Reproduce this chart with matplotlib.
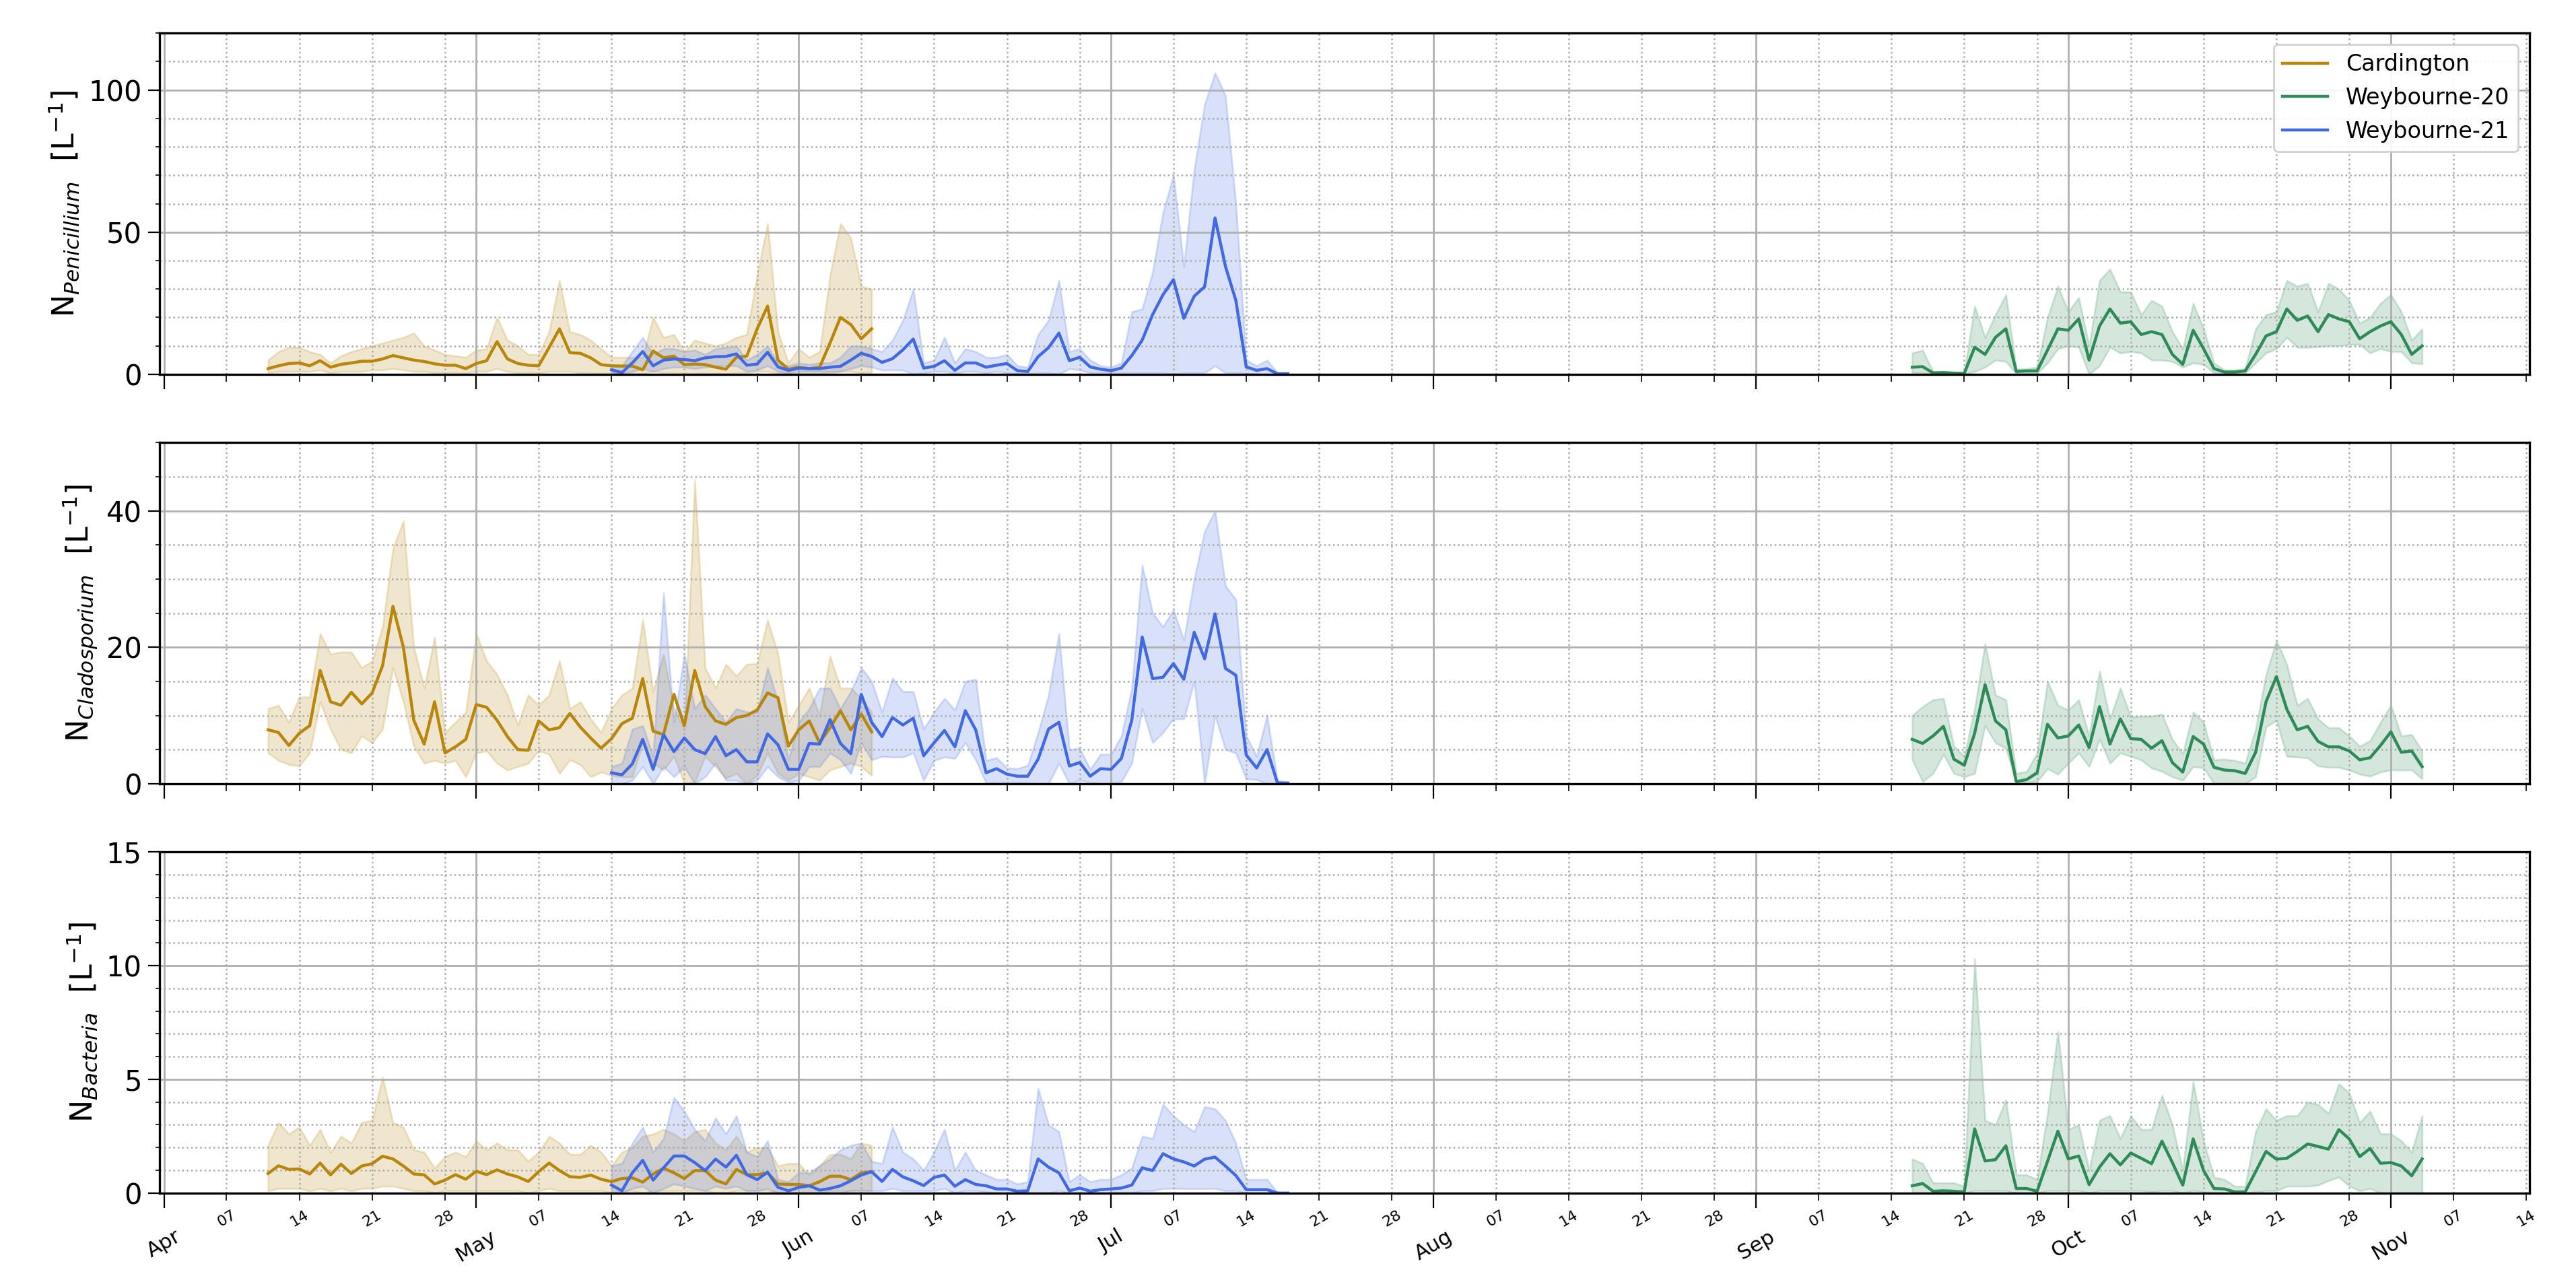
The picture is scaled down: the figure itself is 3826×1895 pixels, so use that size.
import numpy as np
import pandas as pd
import matplotlib
matplotlib.use('Agg')
import matplotlib.pyplot as plt
import matplotlib.dates as mdates
from matplotlib.ticker import MultipleLocator

# --- Data (daily means and spread) ---
card_start = '2021-04-11'
w21_start = '2021-05-14'
w20_start = '2021-09-16'

# Penicillium
card_pen = [2, 3, 3.8, 4, 3, 4.8, 2.5, 3.5, 4, 4.6, 4.6, 5.4, 6.6, 5.8, 5, 4.5, 3.7, 3.2, 3.2, 2,
            3.8, 4.8, 11.5, 5.4, 3.8, 3.2, 3, 9.4, 16, 7.6, 7.4, 5.8, 3.4, 3, 2.9, 2.9, 1.6, 8.2, 5.8, 6.4,
            3.4, 3.6, 3.4, 2.5, 1.8, 6, 6.4, 16, 24, 5, 1.8, 2.5, 2, 2.5, 11, 20, 17.5, 12.5, 16]
card_pen_hi = [5, 8, 9.5, 9.5, 8, 7, 4, 6.5, 8, 9, 10, 11, 12, 13, 14.5, 10, 8.5, 7, 6.5, 6,
               8.5, 9, 20, 12, 10, 7, 7, 15, 33, 15, 14, 12, 9, 6, 6, 6, 6, 20, 13, 14,
               8, 12, 11, 10, 11, 13, 14, 35, 53, 15, 4, 9, 6, 8, 35, 53, 48, 31, 30]
card_pen_lo = [0.5, 1, 1, 1, 1, 1.5, 0.5, 1, 1, 1, 1.5, 1.5, 2, 1.5, 1, 1, 0.5, 0.5, 0.5, 0.3,
               1, 1, 2, 1, 0.5, 0.5, 0.5, 1, 1, 1, 0.5, 0.5, 0.3, 0.3, 0.3, 0.3, 0.2, 1, 0.5, 0.5,
               0.3, 0.3, 0.3, 0.2, 0.1, 0.5, 0.5, 1, 1, 0.3, 0.1, 0.2, 0.2, 0.2, 0.5, 1, 1, 0.5, 0.5]
w21_pen = [1.6, 0.6, 4, 8, 3, 5, 5.4, 5.2, 4.8, 5.8, 6.2, 6.3, 7.2, 3.2, 3.6, 7.8, 2.6, 1.4,
           2.2, 2, 2, 2.5, 2.8, 5, 7.4, 6.3, 4.2, 5.5, 8.6, 12.4, 2.2, 2.8, 4.8, 1.4, 4, 4, 2.5, 3.2,
           3.8, 1.3, 1, 6.2, 9.4, 14.5, 4.8, 6, 2.6, 1.8,
           1.3, 2.2, 6.6, 12, 21, 28, 33.3, 19.7, 27.5, 30.8, 55, 38, 26, 2.6, 1.4, 2, 0.2, 0.2]
w21_pen_hi = [2.5, 3, 8, 13, 7, 9, 9, 8, 8.5, 7, 9, 9.5, 10, 5, 7, 10, 4, 3,
              4, 3.5, 4, 4, 6, 10, 10, 9, 8, 12, 19, 30, 4, 5, 13, 4, 9, 8, 6, 6,
              7, 3, 2.5, 14, 19, 33, 8, 9, 5, 3,
              2.5, 4, 22, 23, 36, 57, 70, 38, 72, 95, 106, 98, 60, 5, 3, 5, 0.5, 0.3]
w21_pen_lo = [0.5, 0, 1, 2, 1, 2, 2.5, 2.5, 2, 2.5, 3, 3, 3, 1, 1.5, 3, 1, 0.5,
              1, 1, 1, 1, 1, 2, 3, 2.5, 1.5, 1.5, 1.5, 0, 0.5, 1, 1, 0.3, 1, 1, 0.5, 1,
              0.5, 0.3, 0.2, 0.5, 0.5, 0, 2, 1.5, 0.5, 0.5,
              0.5, 0.5, 0.5, 0.5, 0.5, 0.5, 0, 0.5, 0.5, 0.5, 3, 0.5, 0.5, 0.3, 0.2, 0, 0, 0]
w20_pen = [2.5, 2.7, 0.5, 0.6, 0.4, 0.3, 9.5, 7, 13, 16, 1, 1.2, 1.2, 8.5, 16,
           15.5, 19.5, 5, 17, 23, 18, 18.5, 14, 15, 14, 7, 3.5, 15.5, 9, 2, 0.8, 0.8, 1.2, 7, 13.5,
           15, 23, 19, 20.5, 15, 21, 19.5, 18.5, 12.5, 15, 17, 18.5, 14, 7, 10]
w20_pen_hi = [7.5, 8.5, 1, 1, 0.7, 0.6, 24, 13, 21, 28, 2, 2, 2.5, 20, 31,
              22, 27, 10, 33, 37, 29, 29, 21, 26, 24, 15, 9, 25, 16, 4, 1.5, 1.5, 2, 16, 21,
              22, 33, 31, 32, 22, 32, 30, 26, 18, 20, 25, 28, 22, 12, 16]
w20_pen_lo = [0.5, 0.5, 0, 0, 0, 0, 1, 2.5, 5, 4.5, 0.3, 0.3, 0.4, 4, 9,
              10, 9.5, 0, 3, 9.5, 7.5, 8, 7.5, 5, 5, 4.5, 2.5, 4, 3.5, 0.5, 0.2, 0.2, 0.4, 4, 7.5,
              9, 13, 9.5, 9.5, 9.7, 10, 10, 10.5, 10.5, 7.5, 9, 8, 8, 4, 3.7]

# Cladosporium
card_cla = [7.9, 7.5, 5.6, 7.4, 8.5, 16.6, 12, 11.5, 13.4, 11.7, 13.3, 17.3, 26, 20, 9.3, 5.8, 12, 4.5, 5.4, 6.5,
            11.6, 11.2, 9.3, 6.9, 5, 4.9, 9.2, 7.9, 8.2, 10.3, 8.3, 6.7, 5.2, 6.6, 8.8, 9.6, 15.4, 7.7, 7.2, 13.1,
            8.5, 16.6, 11.3, 9.2, 8.7, 9.7, 10, 10.8, 13.3, 12.6, 5.5, 7.9, 9.2, 6, 8.2, 10.7, 7.9, 10.2, 7.6]
card_cla_hi = [11, 11.5, 9, 12.7, 12.7, 22, 19, 19.3, 19.3, 17, 18, 23, 34.5, 38.5, 20, 14, 21.5, 7.5, 9, 10.5,
               22, 18, 16, 13, 8.6, 13, 11.5, 13, 18, 11, 12, 9.5, 7.5, 11, 13, 14, 24, 13.5, 19, 11,
               8, 44.5, 17, 14, 17.5, 15.8, 17.5, 17.6, 24, 19, 9, 11.5, 14, 10, 18.7, 14, 14, 12.5, 10.5]
card_cla_lo = [4.5, 3.4, 2.8, 2.6, 4.5, 12, 8, 5, 4.5, 7, 6, 8, 17, 12, 5.5, 3, 3.4, 3, 3.4, 1,
               4.5, 4.8, 3, 2, 2.5, 3, 4.8, 4.3, 1.5, 3.5, 2.8, 1, 1.7, 1.2, 1, 1, 6, 3, 2, 4,
               0, 0.2, 4, 2.5, 0.8, 1.5, 0, 1.2, 4.5, 1.5, 0.5, 1.5, 1, 0.5, 2, 2.5, 3, 2.5, 1.2]
w21_cla = [1.6, 1.3, 2.9, 6.5, 2.1, 7.2, 4.7, 6.7, 5, 4.4, 6.9, 4.1, 5, 3.2, 3.2, 7.3, 5.7, 2.1,
           2.1, 5.9, 5.8, 9.4, 5.9, 4.4, 13.1, 9, 6.9, 9.7, 8.6, 9.6, 4.1, 6, 7.8, 5.4, 10.7, 7.9, 1.6, 2.2,
           1.4, 1.1, 1.1, 3.6, 8, 9, 2.6, 3.1, 1.1, 2.2,
           2.1, 3.7, 9.3, 21.5, 15.4, 15.6, 17.6, 15.3, 22.2, 18.3, 24.9, 16.9, 15.9, 4.2, 2.3, 5, 0.1, 0.1]
w21_cla_hi = [2.5, 3, 8, 8.5, 4, 28, 9, 19, 11, 13, 11, 9, 11, 10.5, 10.5, 17, 12, 3.5,
              9, 11, 14, 14, 11, 13.5, 17, 15, 10.5, 15.5, 13.5, 13.5, 8, 10.5, 12.5, 10.8, 15, 15.3, 3.4, 3.8,
              2.3, 2.2, 2.7, 7.5, 13, 22, 5, 5.2, 2.1, 4.3,
              4.3, 7, 14, 32, 25, 23, 25.5, 21, 30, 37, 40, 29, 27, 7, 4, 10, 0.5, 0.2]
w21_cla_lo = [0, 0, 0.5, 2.5, 0, 2.5, 1, 2.5, 0, 1, 3, 0.5, 0.5, 0, 0.5, 2.5, 1, 0.2,
              0.5, 2.5, 2.5, 4.5, 3.5, 1.5, 6, 3.5, 4, 3.9, 3.9, 4.5, 0.5, 3.4, 3.9, 3.7, 6, 3.5, 0.1, 0.1,
              0.2, 0.2, 0.1, 0, 0, 3, 0, 0.5, 0.2, 0,
              0, 0.3, 3, 11, 6, 7.5, 9.5, 9.5, 15, 0, 10, 5, 4.5, 0.7, 0.6, 0, 0, 0]
w20_cla = [6.5, 5.9, 7, 8.4, 3.6, 2.7, 7.4, 14.5, 9.2, 7.9, 0.3, 0.6, 1.6, 8.7, 6.7,
           7, 8.6, 5.3, 11.3, 5.8, 9.5, 6.6, 6.5, 5.2, 6.3, 3.1, 1.7, 6.9, 5.8, 2.4, 2, 1.9, 1.5, 4.6, 12,
           15.7, 10.9, 7.9, 8.4, 6.2, 5.4, 5.4, 4.8, 3.5, 3.8, 5.6, 7.6, 4.6, 4.8, 2.5]
w20_cla_hi = [10, 11.3, 12.3, 12.5, 5.5, 4, 11, 20.5, 13, 12.3, 1.5, 1.8, 4.5, 15, 11.5,
              10.8, 12.3, 7, 16.5, 9.5, 14, 9.8, 9.9, 9.9, 10.2, 6.5, 4.4, 10.5, 9, 3.5, 3.6, 3.4, 3, 8, 16,
              21, 17.5, 11.5, 12.5, 9.5, 8.2, 8.2, 7, 5.5, 6.3, 9, 11.5, 7, 7.2, 4.8]
w20_cla_lo = [3.5, 0.3, 1.5, 4.3, 1.5, 1, 1.5, 8.5, 6, 5.2, 0, 0.2, 0.3, 2.2, 1.4,
              3, 4.5, 2.5, 6.5, 3, 4.5, 4, 3.5, 2.3, 1.8, 1, 0.5, 2.5, 2.3, 0, 0, 0, 0, 1, 8.3,
              9.3, 4, 3.9, 3.8, 2.6, 2.4, 2.4, 2, 1.4, 1.1, 1.7, 2, 2, 2, 0.7]

# Bacteria
card_bac = [0.86, 1.2, 1.04, 1.06, 0.84, 1.32, 0.8, 1.27, 0.86, 1.19, 1.29, 1.62, 1.5, 1.19, 0.84, 0.8, 0.4, 0.57, 0.81, 0.61,
            0.96, 0.81, 1.02, 0.84, 0.71, 0.51, 0.94, 1.32, 0.99, 0.72, 0.69, 0.79, 0.61, 0.5, 0.64, 0.67, 0.48, 0.84, 1.09, 0.89,
            0.64, 0.99, 0.99, 0.57, 0.4, 1.04, 0.81, 0.81, 0.89, 0.4, 0.38, 0.38, 0.32, 0.5, 0.74, 0.74, 0.59, 0.89, 0.94]
card_bac_hi = [2.1, 3.1, 2.6, 2.9, 2.1, 2.8, 1.8, 2.5, 2.2, 3.1, 3.2, 5.1, 3.1, 2.9, 1.9, 1.8, 1.1, 1.6, 1.8, 1.6,
               2.3, 1.9, 2.2, 1.9, 1.9, 1.4, 1.8, 2.5, 2.2, 1.7, 1.7, 2.1, 1.8, 1.2, 1.8, 2, 2.5, 2.6, 2.8, 2.6,
               2.3, 2.7, 2.8, 2.2, 1.9, 2.5, 1.8, 2, 2, 1.2, 1.3, 1.3, 0.8, 1.2, 1.7, 1.7, 1.5, 2.2, 2.1]
card_bac_lo = [0.1, 0.2, 0.2, 0.2, 0.1, 0.2, 0.1, 0.2, 0.1, 0.2, 0.2, 0.3, 0.3, 0.2, 0.1, 0.1, 0, 0.1, 0.1, 0.1,
               0.1, 0.1, 0.1, 0.1, 0.1, 0, 0.1, 0.2, 0.1, 0.1, 0.1, 0.1, 0.1, 0, 0.1, 0.1, 0, 0.1, 0.1, 0.1,
               0.1, 0.1, 0.1, 0, 0, 0.1, 0.1, 0.1, 0.1, 0, 0, 0, 0, 0, 0.1, 0.1, 0.1, 0.1, 0.1]
w21_bac = [0.35, 0.1, 0.89, 1.44, 0.57, 1.11, 1.63, 1.63, 1.34, 0.99, 1.49, 1.14, 1.66, 0.81, 0.59, 0.92, 0.25, 0.1,
           0.25, 0.32, 0.13, 0.2, 0.32, 0.54, 0.79, 0.94, 0.51, 1.04, 0.71, 0.54, 0.33, 0.69, 0.79, 0.3, 0.59, 0.38, 0.32, 0.18,
           0.18, 0.08, 0.1, 1.5, 1.14, 0.89, 0.1, 0.22, 0.08, 0.15,
           0.18, 0.22, 0.35, 1.11, 0.99, 1.73, 1.5, 1.37, 1.19, 1.49, 1.58, 1.19, 0.77, 0.15, 0.15, 0.15, 0, 0]
w21_bac_hi = [1.2, 1.3, 2.2, 2.9, 1.8, 2.4, 4.2, 3.6, 2.8, 2.3, 3.3, 2.6, 3.4, 1.8, 1.6, 2.3, 0.6, 0.5,
              0.9, 0.9, 1.2, 1.5, 1.9, 2.1, 2.2, 1.4, 1.3, 2.9, 1.8, 1.5, 1.0, 1.8, 2.8, 1.0, 1.8, 1.0, 0.8, 0.6,
              0.6, 0.4, 0.5, 4.6, 3.0, 2.7, 0.5, 0.8, 0.5, 0.6,
              0.6, 0.8, 1.1, 2.5, 2.4, 3.9, 3.4, 3.0, 2.7, 3.8, 3.7, 3.2, 2.2, 0.6, 0.6, 0.6, 0.02, 0]
w21_bac_lo = [0, 0, 0.2, 0.3, 0, 0.2, 0.4, 0.3, 0.2, 0.1, 0.3, 0.2, 0.3, 0.1, 0.1, 0.2, 0, 0,
              0, 0, 0, 0, 0, 0.1, 0.1, 0.1, 0.1, 0.2, 0.1, 0.1, 0.1, 0.1, 0.2, 0, 0.1, 0.1, 0.05, 0,
              0, 0, 0, 0, 0, 0.1, 0, 0, 0, 0,
              0, 0, 0, 0.1, 0.1, 0.2, 0.2, 0.2, 0.2, 0.2, 0.2, 0.1, 0.1, 0, 0, 0, 0, 0]
w20_bac = [0.32, 0.42, 0.08, 0.1, 0.08, 0.05, 2.82, 1.41, 1.47, 2.08, 0.2, 0.2, 0.08, 1.39, 2.72,
           1.5, 1.63, 0.37, 1.14, 1.73, 1.24, 1.76, 1.53, 1.29, 2.28, 1.34, 0.35, 2.38, 0.99, 0.2, 0.18, 0.05, 0.05, 0.94, 1.83,
           1.49, 1.53, 1.83, 2.16, 2.05, 1.93, 2.79, 2.38, 1.6, 1.96, 1.31, 1.34, 1.19, 0.76, 1.5]
w20_bac_hi = [1.5, 1.3, 0.45, 0.45, 0.45, 0.3, 10.3, 3.2, 3.0, 4.1, 0.8, 0.8, 0.6, 3.5, 7.1,
              2.8, 3.0, 1.0, 3.2, 3.4, 2.4, 3.4, 2.8, 2.8, 4.3, 3.0, 1.0, 4.9, 2.3, 0.7, 0.6, 0.3, 0.3, 2.7, 3.7,
              3.2, 3.4, 3.4, 4.0, 3.9, 3.5, 4.8, 4.4, 3.1, 3.6, 2.6, 2.6, 2.3, 1.8, 3.4]
w20_bac_lo = [0, 0, 0, 0, 0, 0, 0.1, 0.1, 0.1, 0.1, 0, 0, 0, 0.1, 0.1,
              0.1, 0.1, 0, 0.1, 0.1, 0.1, 0.1, 0.1, 0.05, 0.1, 0.1, 0, 0.1, 0.05, 0, 0, 0, 0, 0.05, 0.1,
              0.1, 0.3, 0.3, 0.3, 0.35, 0.55, 0.7, 0.3, 0.1, 0.2, 0, 0, 0, 0, 0]

site_names = ['Cardington', 'Weybourne-20', 'Weybourne-21']
site_colors = ['#b8860b', '#2e8b57', '#4169e1']
site_starts = [card_start, w20_start, w21_start]

panels = [
    ('Penicillium', [(card_pen, card_pen_lo, card_pen_hi), (w20_pen, w20_pen_lo, w20_pen_hi), (w21_pen, w21_pen_lo, w21_pen_hi)], 120, 50, 10),
    ('Cladosporium', [(card_cla, card_cla_lo, card_cla_hi), (w20_cla, w20_cla_lo, w20_cla_hi), (w21_cla, w21_cla_lo, w21_cla_hi)], 50, 20, 5),
    ('Bacteria', [(card_bac, card_bac_lo, card_bac_hi), (w20_bac, w20_bac_lo, w20_bac_hi), (w21_bac, w21_bac_lo, w21_bac_hi)], 15, 5, 1),
]

fig, axes = plt.subplots(3, 1, figsize=(19.13, 9.475), dpi=200, sharex=True)
fig.subplots_adjust(left=0.062, right=0.982, top=0.974, bottom=0.065, hspace=0.2)

for ax, (name, series, ymax, major, minor) in zip(axes, panels):
    for (mean, lo, hi), label, color, start in zip(series, site_names, site_colors, site_starts):
        dates = pd.date_range(start, periods=len(mean), freq='D')
        ax.fill_between(dates, lo, hi, color=color, alpha=0.2, lw=1)
        ax.plot(dates, mean, color=color, lw=1.6, label=label)
    ax.set_ylim(0, ymax)
    ax.yaxis.set_major_locator(MultipleLocator(major))
    ax.yaxis.set_minor_locator(MultipleLocator(minor))
    ax.set_xlim(pd.Timestamp('2021-03-31 14:00'), pd.Timestamp('2021-11-14 08:00'))
    ax.xaxis.set_major_locator(mdates.MonthLocator())
    ax.xaxis.set_minor_locator(mdates.DayLocator(bymonthday=[7, 14, 21, 28]))
    ax.grid(which='major', color='#b0b0b0', lw=1.0)
    ax.grid(which='minor', color='#aaaaaa', lw=0.9, ls=':')
    ax.tick_params(axis='y', which='major', labelsize=15, length=6)
    ax.tick_params(axis='x', which='major', length=8)
    ax.tick_params(axis='x', which='minor', length=4)
    for s in ax.spines.values():
        s.set_linewidth(1.2)
    ax.set_ylabel(r'N$_{\mathit{' + name + r'}}$  [L$^{-1}$]', fontsize=16)

axes[-1].xaxis.set_major_formatter(mdates.DateFormatter('%b'))
axes[-1].xaxis.set_minor_formatter(mdates.DateFormatter('%d'))
axes[-1].tick_params(axis='x', which='major', labelsize=11, pad=10)
axes[-1].tick_params(axis='x', which='minor', labelsize=8, pad=4)
for lbl in axes[-1].get_xticklabels(which='major'):
    lbl.set_rotation(30)
for lbl in axes[-1].get_xticklabels(which='minor'):
    lbl.set_rotation(30)

axes[0].legend(loc='upper right', fontsize=12, framealpha=0.9)

fig.savefig('out.png')
